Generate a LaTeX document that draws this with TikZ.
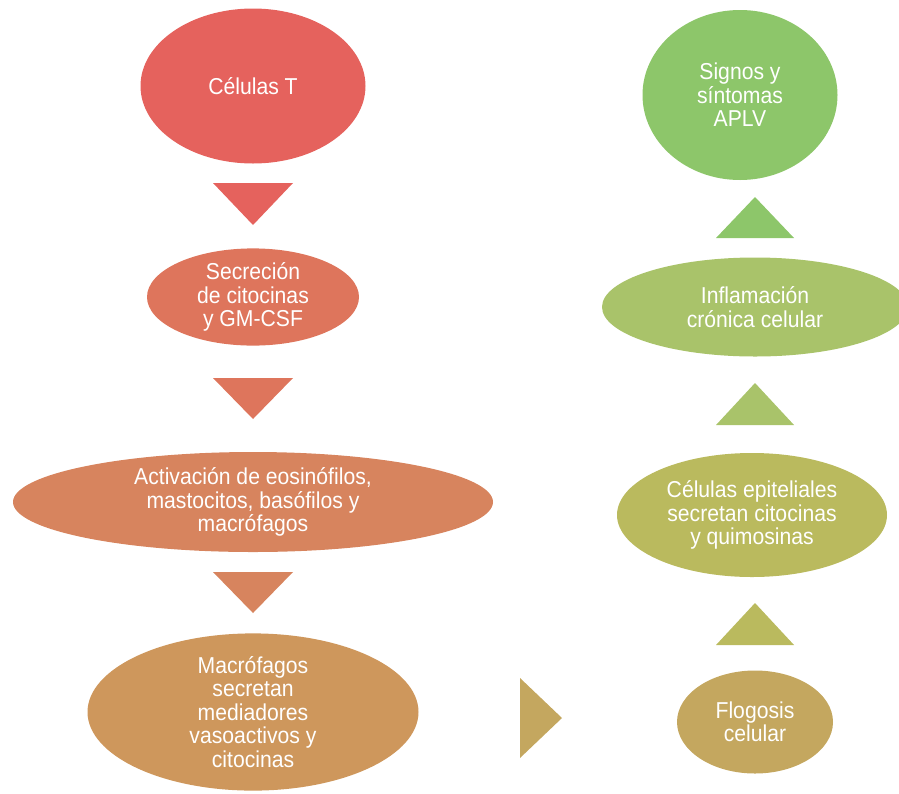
\documentclass[tikz,border=0pt]{standalone}
\usepackage{fontspec}
\setmainfont[FakeStretch=0.92]{Liberation Sans}
\usetikzlibrary{shapes.geometric}
\definecolor{rojo}{HTML}{E5625D}
\definecolor{salmon}{HTML}{DE755C}
\definecolor{naranja}{HTML}{D7845E}
\definecolor{ocre}{HTML}{CE975C}
\definecolor{mostaza}{HTML}{C4A75F}
\definecolor{oliva}{HTML}{BABA5E}
\definecolor{lima}{HTML}{A9C36A}
\definecolor{verde}{HTML}{8DC66A}
\begin{document}
\begin{tikzpicture}[x=1pt,y=-1pt,
  paso/.style={ellipse,inner sep=0pt,text=white,align=center,
    font=\fontsize{23}{23.5}\selectfont}]
\useasboundingbox (0,0) rectangle (899,793);
% columna izquierda
\node[paso,fill=rojo,minimum width=225,minimum height=155] (celt) at (253,86) {Células T};
\fill[rojo] (213,183) -- (293,183) -- (253,225) -- cycle;
\node[paso,fill=salmon,minimum width=212,minimum height=94] (secr) at (253,297) {Secreción\\de citocinas\\y GM-CSF};
\fill[salmon] (213,378) -- (293,378) -- (253,419) -- cycle;
\node[paso,fill=naranja,minimum width=480,minimum height=100] (activ) at (253,502) {Activación de eosinófilos,\\mastocitos, basófilos y\\macrófagos};
\fill[naranja] (213,572) -- (293,572) -- (253,613) -- cycle;
\node[paso,fill=ocre,minimum width=331,minimum height=156] (macro) at (253,712) {Macrófagos\\secretan\\mediadores\\vasoactivos y\\citocinas};
\fill[mostaza] (520,678) -- (562,718) -- (520,758) -- cycle;
% columna derecha
\node[paso,fill=mostaza,minimum width=156,minimum height=103] (flog) at (755,722) {Flogosis\\celular};
\fill[oliva] (716,645) -- (794,645) -- (755,603) -- cycle;
\node[paso,fill=oliva,minimum width=270,minimum height=124] (epit) at (752,515) {Células epiteliales\\secretan citocinas\\y quimosinas};
\fill[lima] (716,425) -- (794,425) -- (755,383) -- cycle;
\node[paso,fill=lima,minimum width=306,minimum height=99] (infl) at (755,307) {Inflamación\\crónica celular};
\fill[verde] (716,238) -- (794,238) -- (755,197) -- cycle;
\node[paso,fill=verde,minimum width=195,minimum height=170] (signos) at (740,95) {Signos y\\síntomas\\APLV};
\end{tikzpicture}
\end{document}
